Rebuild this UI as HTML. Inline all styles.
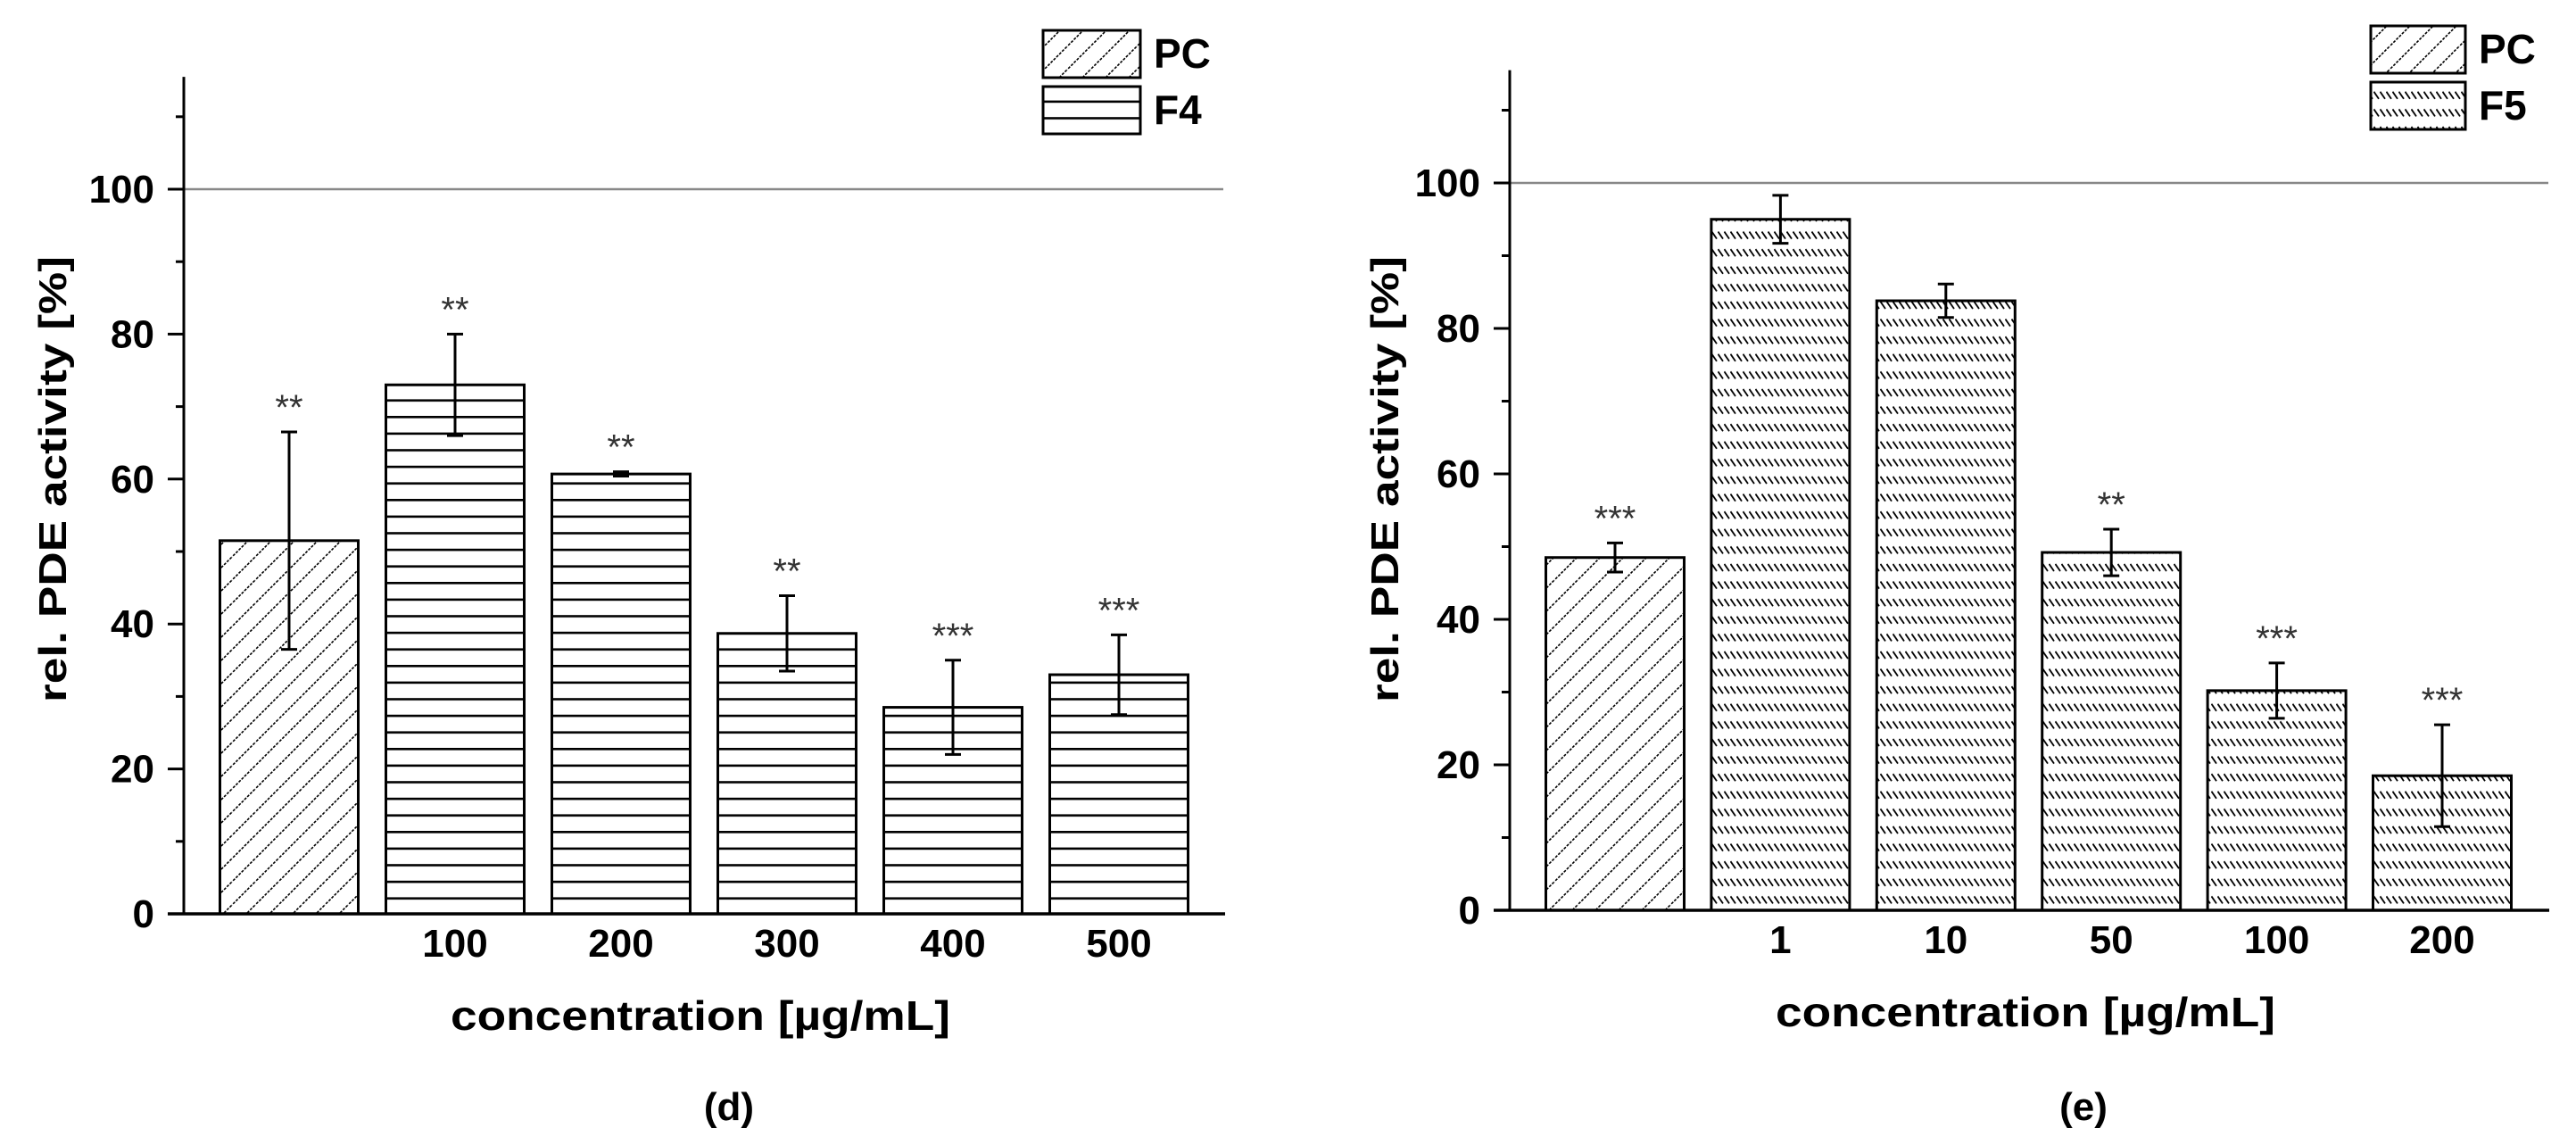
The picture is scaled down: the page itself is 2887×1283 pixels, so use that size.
<!DOCTYPE html>
<html><head><meta charset="utf-8"><style>
html,body{margin:0;padding:0;background:#fff;}
svg{display:block;}
text{font-family:"Liberation Sans",Arial,sans-serif;}
</style></head><body>
<svg id="fig" width="2887" height="1283" viewBox="0 0 2887 1283" xmlns="http://www.w3.org/2000/svg">
<defs>
<pattern id="diag" patternUnits="userSpaceOnUse" width="26" height="26">
<path d="M-2,28 L28,-2 M-15,15 L15,-15 M11,41 L41,11" stroke="#000" stroke-width="1.6" stroke-dasharray="3,1.5"/>
</pattern>
<pattern id="hlines" patternUnits="userSpaceOnUse" width="20" height="18.6" y="1024">
<rect x="0" y="0" width="20" height="2.6" fill="#000"/>
</pattern>
<pattern id="bslash" patternUnits="userSpaceOnUse" width="7" height="19.6" y="1020">
<path d="M0.5,4 L6,12" stroke="#000" stroke-width="1.8"/>
</pattern>
</defs>
<g id="left"></g>
<g id="right"></g>
</svg>
<script>
// Panel (d) data
const dCategories = ["", "100", "200", "300", "400", "500"];
const dValues = [51.5, 73.0, 60.7, 38.7, 28.5, 33.0];
const dErrors = [15.0, 7.0, 0.3, 5.2, 6.5, 5.5];
const dStars = ["**", "**", "**", "**", "***", "***"];
const dSeries = ["PC", "F4", "F4", "F4", "F4", "F4"];
// Panel (e) data
const eCategories = ["", "1", "10", "50", "100", "200"];
const eValues = [48.5, 95.0, 83.8, 49.2, 30.2, 18.5];
const eErrors = [2.0, 3.3, 2.3, 3.2, 3.8, 7.0];
const eStars = ["***", "", "", "**", "***", "***"];
const eSeries = ["PC", "F5", "F5", "F5", "F5", "F5"];
const yTicks = [0, 20, 40, 60, 80, 100];
const yMinorTicks = [10, 30, 50, 70, 90, 110];

const NS = "http://www.w3.org/2000/svg";
function mk(parent, tag, attrs, txt){
  const e = document.createElementNS(NS, tag);
  for (const k in attrs) e.setAttribute(k, attrs[k]);
  if (txt !== undefined) e.textContent = txt;
  parent.appendChild(e);
  return e;
}

function drawPanel(g, cfg, cats, vals, errs, stars, series){
  const y = v => cfg.y0 - v * cfg.k;
  const x = i => cfg.c0 + cfg.step * i;
  const fillFor = s => s === "PC" ? "url(#diag)" : cfg.fill;
  let e = mk(g, "line", {x1: cfg.ax, x2: cfg.refEnd, y1: y(100), y2: y(100), stroke: "#888", "stroke-width": 2.5});
  
  
  for (let i = 0; i < vals.length; i++){
    const bw = 155;
    const b = mk(g, "rect", {x: x(i) - bw/2, y: y(vals[i]), width: bw, height: y(0) - y(vals[i]), fill: fillFor(series[i]), stroke: "#000", "stroke-width": 3});
    
    
    const eb = mk(g, "path", {d: `M${x(i)},${y(vals[i]+errs[i])} V${y(vals[i]-errs[i])} M${x(i)-9},${y(vals[i]+errs[i])} H${x(i)+9} M${x(i)-9},${y(vals[i]-errs[i])} H${x(i)+9}`, stroke: "#000", "stroke-width": 3, fill: "none"});
    
    
    if (stars[i]){
      const st = mk(g, "text", {x: x(i), y: y(vals[i]+errs[i]) - 14, "text-anchor": "middle", "font-size": 40, fill: "#333"}, stars[i]);
      
      
    }
    if (cats[i]){
      const tl = mk(g, "text", {x: x(i), y: cfg.xLabY, "text-anchor": "middle", "font-size": 44, "font-weight": "bold"}, cats[i]);
      
      
    }
  }
  e = mk(g, "line", {x1: cfg.ax, x2: cfg.ax, y1: y(115.5), y2: y(0), stroke: "#000", "stroke-width": 3});
  
  
  e = mk(g, "line", {x1: cfg.ax - 18, x2: cfg.axEnd, y1: y(0), y2: y(0), stroke: "#000", "stroke-width": 3.5});
  
  
  yTicks.forEach(t => {
    const tk = mk(g, "line", {x1: cfg.ax - 18, x2: cfg.ax, y1: y(t), y2: y(t), stroke: "#000", "stroke-width": 3});
    
    
    const lb = mk(g, "text", {x: cfg.ax - 33, y: y(t) + 15, "text-anchor": "end", "font-size": 44, "font-weight": "bold"}, String(t));
    
    
  });
  yMinorTicks.forEach(t => {
    const tk = mk(g, "line", {x1: cfg.ax - 9, x2: cfg.ax, y1: y(t), y2: y(t), stroke: "#000", "stroke-width": 3});
    
    
  });
  e = mk(g, "text", {x: cfg.xTitleX, y: cfg.xTitleY, "text-anchor": "middle", "font-size": 46, "font-weight": "bold", textLength: 560, lengthAdjust: "spacingAndGlyphs"}, "concentration [µg/mL]");
  
  
  e = mk(g, "text", {x: 0, y: 0, "text-anchor": "middle", "font-size": 44, "font-weight": "bold", textLength: 500, lengthAdjust: "spacingAndGlyphs", transform: `translate(${cfg.yTitleX},537) rotate(-90)`}, "rel. PDE activity [%]");
  
  
  e = mk(g, "text", {x: cfg.capX, y: 1255, "text-anchor": "middle", "font-size": 44, "font-weight": "bold"}, cfg.caption);
  
  
  const lg = mk(g, "g", {});
  
  
  [["PC", "url(#diag)"], [cfg.name, cfg.fill]].forEach((it, j) => {
    const by = cfg.legY + j * 63;
    const r = mk(lg, "rect", {x: cfg.legX, y: by, width: cfg.legW, height: 53, fill: it[1], stroke: "#000", "stroke-width": 3});
    
    
    const t = mk(lg, "text", {x: cfg.legX + cfg.legW + 15, y: by + 42, "font-size": 46, "font-weight": "bold"}, it[0]);
    
    
  });
}

drawPanel(document.getElementById("left"),
  {y0: 1024, k: 8.12, ax: 206, axEnd: 1373, refEnd: 1371, c0: 324, step: 186, fill: "url(#hlines)", name: "F4",
   xLabY: 1072, xTitleX: 785, xTitleY: 1154, yTitleX: 74, capX: 817, caption: "(d)", legX: 1169, legY: 34, legW: 109},
  dCategories, dValues, dErrors, dStars, dSeries);
drawPanel(document.getElementById("right"),
  {y0: 1020, k: 8.15, ax: 1692, axEnd: 2857, refEnd: 2856, c0: 1810, step: 185.4, fill: "url(#bslash)", name: "F5",
   xLabY: 1068, xTitleX: 2270, xTitleY: 1150, yTitleX: 1567, capX: 2335, caption: "(e)", legX: 2657, legY: 29, legW: 106},
  eCategories, eValues, eErrors, eStars, eSeries);
</script>
</body></html>
